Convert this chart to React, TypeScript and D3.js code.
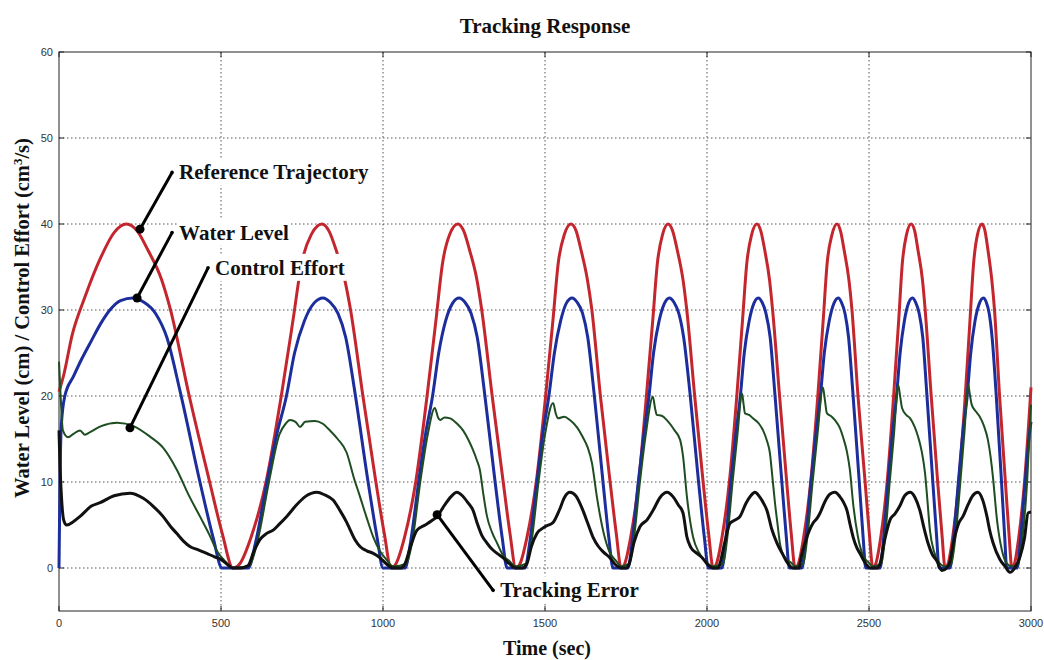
import React, { useRef, useEffect } from "react";
import * as d3 from "d3";

// axis ticks
const xTicks = [0, 500, 1000, 1500, 2000, 2500, 3000];
const yTicks = [0, 10, 20, 30, 40, 50, 60];

// [time (sec), value]
const referenceTrajectory = [
  [0, 20.5], [15, 22.5], [40, 27], [80, 31.5], [130, 36.2], [170, 39], [208, 40],
  [241, 39.2], [274, 37], [317, 33.5], [343, 30.2], [402, 20], [465, 10], [504, 4], [537, 0],
  [558, 0.5], [592, 3.5], [639, 10], [686, 20], [723, 29], [749, 35.5], [779, 38.8], [812, 40],
  [833, 39.2], [855, 37], [882, 33.5], [899, 30.2], [938, 20], [978, 10], [1004, 4], [1025, 0],
  [1040, 0.5], [1066, 3.5], [1101, 10], [1136, 20], [1164, 29], [1184, 35.5], [1206, 38.8], [1231, 40],
  [1249, 39.2], [1267, 37], [1290, 33.5], [1304, 30.2], [1337, 20], [1371, 10], [1392, 4], [1410, 0],
  [1423, 0.5], [1444, 3.5], [1473, 10], [1502, 20], [1525, 29], [1541, 35.5], [1560, 38.8], [1580, 40],
  [1596, 39.2], [1611, 37], [1631, 33.5], [1644, 30.2], [1671, 20], [1701, 10], [1720, 4], [1735, 0],
  [1746, 0.5], [1764, 3.5], [1789, 10], [1813, 20], [1833, 29], [1847, 35.5], [1863, 38.8], [1880, 40],
  [1894, 39.2], [1908, 37], [1926, 33.5], [1937, 30.2], [1962, 20], [1988, 10], [2005, 4], [2019, 0],
  [2029, 0.5], [2046, 3.5], [2069, 10], [2092, 20], [2110, 29], [2123, 35.5], [2138, 38.8], [2154, 40],
  [2166, 39.2], [2178, 37], [2193, 33.5], [2202, 30.2], [2224, 20], [2246, 10], [2260, 4], [2272, 0],
  [2282, 0.5], [2298, 3.5], [2320, 10], [2342, 20], [2359, 29], [2371, 35.5], [2386, 38.8], [2401, 40],
  [2412, 39.2], [2423, 37], [2438, 33.5], [2447, 30.2], [2466, 20], [2488, 10], [2501, 4], [2512, 0],
  [2521, 0.5], [2536, 3.5], [2556, 10], [2576, 20], [2592, 29], [2603, 35.5], [2616, 38.8], [2630, 40],
  [2641, 39.2], [2651, 37], [2665, 33.5], [2673, 30.2], [2692, 20], [2712, 10], [2725, 4], [2735, 0],
  [2744, 0.5], [2758, 3.5], [2777, 10], [2797, 20], [2812, 29], [2823, 35.5], [2835, 38.8], [2849, 40],
  [2858, 39.2], [2867, 37], [2879, 33.5], [2887, 30.2], [2903, 20], [2921, 10], [2932, 4], [2941, 0],
  [2949, 0.5], [2962, 3.5], [2980, 10], [3000, 21],
];

const waterLevel = [
  [0, 0], [3, 10], [7, 16.5], [18, 20], [45, 22.3], [70, 24.3], [101, 26.5], [130, 28.5],
  [157, 30], [190, 31.1], [229, 31.4],
  [262, 30.9], [298, 29.6], [333, 26.8], [374, 20.5], [435, 10], [476, 3.5], [503, 0], [584, 0],
  [607, 3], [642, 10], [672, 15.5], [702, 20], [727, 25], [757, 28.7], [787, 30.8], [815, 31.4],
  [837, 30.9], [861, 29.6], [885, 26.8], [913, 20.5], [954, 10], [982, 3.5], [1000, 0], [1068, 0],
  [1085, 3], [1110, 10], [1131, 15.5], [1153, 20], [1172, 25], [1193, 28.7], [1215, 30.8], [1235, 31.4],
  [1253, 30.9], [1272, 29.6], [1291, 26.8], [1313, 20.5], [1346, 10], [1368, 3.5], [1383, 0], [1438, 0],
  [1453, 3], [1475, 10], [1493, 15.5], [1512, 20], [1529, 25], [1548, 28.7], [1566, 30.8], [1584, 31.4],
  [1599, 30.9], [1616, 29.6], [1632, 26.8], [1651, 20.5], [1679, 10], [1697, 3.5], [1710, 0], [1756, 0],
  [1769, 3], [1788, 10], [1805, 15.5], [1821, 20], [1835, 25], [1852, 28.7], [1869, 30.8], [1884, 31.4],
  [1898, 30.9], [1913, 29.6], [1928, 26.8], [1947, 20.5], [1974, 10], [1992, 3.5], [2004, 0], [2046, 0],
  [2057, 3], [2074, 10], [2089, 15.5], [2103, 20], [2115, 25], [2130, 28.7], [2145, 30.8], [2158, 31.4],
  [2170, 30.9], [2182, 29.6], [2195, 26.8], [2209, 20.5], [2231, 10], [2245, 3.5], [2254, 0], [2293, 0],
  [2304, 3], [2321, 10], [2336, 15.5], [2350, 20], [2362, 25], [2377, 28.7], [2392, 30.8], [2405, 31.4],
  [2415, 30.9], [2426, 29.6], [2437, 26.8], [2450, 20.5], [2470, 10], [2482, 3.5], [2490, 0], [2534, 0],
  [2544, 3], [2559, 10], [2572, 15.5], [2585, 20], [2596, 25], [2609, 28.7], [2622, 30.8], [2634, 31.4],
  [2644, 30.9], [2655, 29.6], [2666, 26.8], [2678, 20.5], [2697, 10], [2709, 3.5], [2716, 0], [2750, 0],
  [2760, 3], [2776, 10], [2789, 15.5], [2803, 20], [2814, 25], [2827, 28.7], [2841, 30.8], [2853, 31.4],
  [2862, 30.9], [2871, 29.6], [2880, 26.8], [2892, 20.5], [2909, 10], [2919, 3.5], [2925, 0], [2957, 0],
  [2967, 3], [2982, 10], [2995, 15.5], [3000, 17],
];

const controlEffort = [
  [0, 24], [5, 20], [12, 16], [28, 15.2], [45, 15.6], [65, 16], [80, 15.5], [96, 15.8], [130, 16.5],
  [180, 16.9], [230, 16.5], [280, 15.3], [321, 14], [364, 11.4], [400, 8.5], [435, 6], [465, 3.8],
  [487, 2], [512, 0.8], [537, 0],
  [588, 0.3], [612, 3], [648, 10], [680, 15.5], [700, 16.8], [713, 17.2], [730, 17], [744, 16.4],
  [760, 17], [790, 17.1], [813, 16.8], [836, 16], [860, 15], [888, 13.4], [910, 10.5], [929, 8.3],
  [950, 5.8], [970, 3.6], [990, 2], [1010, 1], [1031, 0.2],
  [1072, 0.5], [1090, 3], [1115, 10], [1138, 15.5], [1160, 18.6], [1170, 17.5], [1176, 17.2],
  [1190, 17.5], [1207, 17.4], [1228, 16.8], [1247, 16], [1265, 14.8], [1278, 13.7], [1290, 12.5],
  [1299, 11.4], [1310, 8.5], [1321, 6], [1336, 4.2], [1352, 2.9], [1370, 1.5], [1390, 0.8], [1410, 0.2],
  [1442, 0.5], [1458, 3], [1480, 10], [1500, 15.5], [1525, 19.2], [1533, 18], [1540, 17.4],
  [1560, 17.6], [1577, 17.2], [1600, 16.3], [1617, 15.2], [1632, 14], [1645, 12.2], [1660, 8.3],
  [1679, 4.4], [1700, 1.8], [1720, 0.8], [1735, 0.2],
  [1760, 0.5], [1773, 3], [1793, 10], [1811, 15.5], [1833, 19.9], [1840, 18.5], [1845, 17.8],
  [1860, 17.7], [1876, 17.2], [1900, 16], [1917, 14.9], [1926, 13], [1938, 8.3], [1957, 3.6],
  [1975, 1.8], [1995, 0.8], [2019, 0.2],
  [2050, 0.5], [2061, 3], [2079, 10], [2094, 15.5], [2108, 20.3], [2113, 19], [2117, 18], [2130, 17.8],
  [2142, 17.4], [2160, 16.8], [2173, 16], [2185, 14.8], [2194, 13.4], [2202, 10.5], [2210, 7.5],
  [2218, 5], [2225, 2.9], [2240, 1.2], [2260, 0.6], [2272, 0.2],
  [2297, 0.5], [2308, 3], [2326, 10], [2341, 15.5], [2358, 21], [2364, 19.5], [2370, 18],
  [2385, 17.6], [2395, 17.2], [2410, 16.3], [2420, 15.2], [2432, 13.5], [2441, 11.4], [2451, 7.5],
  [2466, 3.6], [2481, 1.5], [2500, 0.6], [2512, 0.2],
  [2538, 0.5], [2548, 3], [2564, 10], [2577, 15.5], [2590, 21.3], [2596, 20], [2602, 18.6],
  [2615, 17.8], [2627, 17.4], [2640, 16.5], [2652, 15.2], [2663, 13.5], [2673, 11], [2680, 8],
  [2688, 4.4], [2700, 2], [2715, 0.7], [2735, 0.2],
  [2754, 0.5], [2765, 3], [2782, 10], [2795, 16], [2806, 21.3], [2812, 20], [2817, 19],
  [2830, 18.2], [2842, 17.6], [2855, 16.5], [2867, 14.9], [2875, 13], [2883, 10.4], [2895, 5.6],
  [2910, 2.1], [2926, 0.5], [2941, 0.2],
  [2961, 0.5], [2972, 3], [2988, 10], [3000, 19],
];

const trackingError = [
  [0, 16], [3, 12], [8, 8], [15, 5.5], [24, 5], [45, 5.4], [65, 6], [100, 7.2], [127, 7.6],
  [170, 8.4], [219, 8.7], [260, 8.1], [290, 7.2], [321, 6], [345, 4.8], [364, 4], [385, 3.1],
  [404, 2.5], [430, 2.1], [456, 1.7], [480, 1.3], [500, 1], [520, 0.4], [537, 0], [560, 0],
  [584, 0.3], [600, 1.8], [620, 3.3], [640, 4], [661, 4.4], [680, 5.1], [703, 6], [730, 7.2],
  [760, 8.3], [796, 8.8], [820, 8.5], [846, 7.9], [867, 6.7], [888, 5.3], [898, 4.5], [915, 3.2],
  [929, 2.5], [950, 2], [970, 1.7], [990, 1.2], [1010, 0.5], [1031, 0], [1055, 0],
  [1068, 0.5], [1085, 2.5], [1105, 4.4], [1130, 5], [1150, 5.5], [1167, 6], [1190, 7.3],
  [1210, 8.3], [1228, 8.8], [1245, 8.4], [1262, 7.6], [1278, 6.7], [1290, 5.3], [1305, 3.8],
  [1321, 2.9], [1336, 2.2], [1352, 1.7], [1370, 1.2], [1390, 0.5], [1410, 0], [1430, 0],
  [1444, 0.5], [1458, 2.5], [1475, 4], [1500, 4.8], [1525, 5.3], [1545, 6.8], [1560, 8.2],
  [1577, 8.8], [1595, 8.4], [1617, 6.7], [1632, 5.2], [1648, 3.6], [1665, 2.5], [1679, 1.9],
  [1700, 1.2], [1720, 0.3], [1735, 0], [1750, 0],
  [1760, 0.5], [1775, 3], [1793, 4.8], [1815, 5.6], [1835, 6.8], [1855, 8.2], [1877, 8.8],
  [1895, 8.3], [1912, 7.3], [1926, 6.4], [1938, 3.6], [1950, 2.4], [1969, 1.7], [1985, 1.2],
  [2000, 0.5], [2019, 0], [2035, 0],
  [2040, 0.5], [2055, 3], [2071, 5.2], [2088, 5.6], [2102, 6], [2120, 7.5], [2135, 8.4],
  [2148, 8.8], [2162, 8.3], [2175, 7.5], [2185, 6.7], [2200, 4.5], [2216, 2.9], [2235, 1.5],
  [2250, 0.5], [2265, 0], [2285, 0],
  [2287, 0.5], [2305, 3.2], [2327, 5.2], [2340, 5.8], [2349, 6.4], [2365, 7.8], [2380, 8.6],
  [2395, 8.8], [2410, 8.3], [2422, 7.6], [2432, 6.7], [2442, 5], [2451, 3.6], [2462, 2.4],
  [2472, 1.7], [2490, 0.5], [2505, 0], [2525, 0],
  [2534, 0.5], [2548, 3.2], [2565, 5.6], [2580, 6.3], [2595, 7.2], [2610, 8.4], [2627, 8.8],
  [2642, 8.2], [2657, 6.7], [2670, 4.6], [2682, 2.9], [2695, 1.6], [2710, 0.8], [2725, -0.3], [2740, 0],
  [2748, 0.5], [2762, 3.2], [2778, 5.3], [2790, 6], [2805, 7.3], [2820, 8.4], [2836, 8.8],
  [2850, 8], [2864, 6], [2873, 4.3], [2883, 2.9], [2904, 1], [2920, 0.2], [2935, -0.5],
  [2950, 0], [2966, 1.3], [2980, 3.5], [2991, 6.4], [3000, 6.5],
];

const series = [
  { name: "Reference Trajectory", values: referenceTrajectory, color: "#c4262e", width: 3 },
  { name: "Water Level", values: waterLevel, color: "#1c2d9c", width: 3 },
  { name: "Control Effort", values: controlEffort, color: "#1d4d20", width: 2 },
  { name: "Tracking Error", values: trackingError, color: "#111111", width: 3 },
];

// callout: dot on the curve, end of the leader line (data units)
const callouts = [
  { label: "Reference Trajectory", dot: [250, 39.4], end: [349, 46] },
  { label: "Water Level", dot: [241, 31.4], end: [349, 39] },
  { label: "Control Effort", dot: [219, 16.3], end: [460, 34.9] },
  { label: "Tracking Error", dot: [1167, 6.2], end: [1340, -2.6] },
];

const W = 1044;
const H = 660;
const serif = "'Liberation Serif', 'Times New Roman', serif";
const sans = "'Liberation Sans', Arial, sans-serif";

export default function App() {
  const ref = useRef(null);

  useEffect(() => {
    const svg = d3.select(ref.current);
    svg.selectAll("*").remove();

    const x = d3.scaleLinear().domain([0, 3000]).range([59, 1031]);
    const y = d3.scaleLinear().domain([-5, 60]).range([611, 52]);

    svg.append("rect").attr("width", W).attr("height", H).attr("fill", "#fff");

    // dotted grid
    const grid = svg.append("g").attr("stroke", "#555").attr("stroke-width", 1).attr("stroke-dasharray", "1.5,2.5");
    grid
      .selectAll("line.v")
      .data(xTicks.slice(1, -1))
      .join("line")
      .attr("class", "v")
      .attr("x1", (d) => x(d))
      .attr("x2", (d) => x(d))
      .attr("y1", y(60))
      .attr("y2", y(-5));
    grid
      .selectAll("line.h")
      .data(yTicks.slice(0, -1))
      .join("line")
      .attr("class", "h")
      .attr("x1", x(0))
      .attr("x2", x(3000))
      .attr("y1", (d) => y(d))
      .attr("y2", (d) => y(d));

    // frame + inward ticks
    svg
      .append("rect")
      .attr("x", x(0))
      .attr("y", y(60))
      .attr("width", x(3000) - x(0))
      .attr("height", y(-5) - y(60))
      .attr("fill", "none")
      .attr("stroke", "#222")
      .attr("stroke-width", 1);

    const ticks = svg.append("g").attr("stroke", "#222").attr("stroke-width", 1);
    xTicks.forEach((t) => {
      ticks.append("line").attr("x1", x(t)).attr("x2", x(t)).attr("y1", y(-5)).attr("y2", y(-5) - 5);
      ticks.append("line").attr("x1", x(t)).attr("x2", x(t)).attr("y1", y(60)).attr("y2", y(60) + 5);
    });
    yTicks.forEach((v) => {
      ticks.append("line").attr("x1", x(0)).attr("x2", x(0) + 5).attr("y1", y(v)).attr("y2", y(v));
      ticks.append("line").attr("x1", x(3000)).attr("x2", x(3000) - 5).attr("y1", y(v)).attr("y2", y(v));
    });

    svg
      .append("g")
      .selectAll("text")
      .data(xTicks)
      .join("text")
      .attr("x", (d) => x(d))
      .attr("y", y(-5) + 16)
      .attr("text-anchor", "middle")
      .style("font-family", sans)
      .style("font-size", "11px")
      .style("fill", "#333")
      .text((d) => d);

    svg
      .append("g")
      .selectAll("text")
      .data(yTicks)
      .join("text")
      .attr("x", x(0) - 6)
      .attr("y", (d) => y(d) + 4)
      .attr("text-anchor", "end")
      .style("font-family", sans)
      .style("font-size", "11px")
      .style("fill", "#333")
      .text((d) => d);

    // curves
    const line = d3
      .line()
      .x((d) => x(d[0]))
      .y((d) => y(d[1]))
      .curve(d3.curveMonotoneX);

    svg
      .append("g")
      .selectAll("path")
      .data(series)
      .join("path")
      .attr("d", (d) => line(d.values))
      .attr("fill", "none")
      .attr("stroke", (d) => d.color)
      .attr("stroke-width", (d) => d.width)
      .attr("stroke-linejoin", "round");

    // callouts
    const ann = svg.append("g");
    callouts.forEach((c) => {
      ann
        .append("line")
        .attr("x1", x(c.dot[0]))
        .attr("y1", y(c.dot[1]))
        .attr("x2", x(c.end[0]))
        .attr("y2", y(c.end[1]))
        .attr("stroke", "#000")
        .attr("stroke-width", 3);
      ann.append("circle").attr("cx", x(c.dot[0])).attr("cy", y(c.dot[1])).attr("r", 4.5).attr("fill", "#000");
      ann.append("circle").attr("cx", x(c.end[0])).attr("cy", y(c.end[1])).attr("r", 1.8).attr("fill", "#000");

      const lg = ann.append("g");
      const txt = lg
        .append("text")
        .attr("x", x(c.end[0]) + 7)
        .attr("y", y(c.end[1]) + 7)
        .style("font-family", serif)
        .style("font-weight", "bold")
        .style("font-size", "21px")
        .style("fill", "#111")
        .text(c.label);
      const bb = txt.node().getBBox();
      lg.insert("rect", "text")
        .attr("x", bb.x - 2)
        .attr("y", bb.y - 2)
        .attr("width", bb.width + 4)
        .attr("height", bb.height + 3)
        .attr("fill", "#fff");
    });

    // titles
    svg
      .append("text")
      .attr("x", 545)
      .attr("y", 33)
      .attr("text-anchor", "middle")
      .style("font-family", serif)
      .style("font-weight", "bold")
      .style("font-size", "21px")
      .style("fill", "#111")
      .text("Tracking Response");

    svg
      .append("text")
      .attr("x", 547)
      .attr("y", 655)
      .attr("text-anchor", "middle")
      .style("font-family", serif)
      .style("font-weight", "bold")
      .style("font-size", "20px")
      .style("fill", "#111")
      .text("Time (sec)");

    const yl = svg
      .append("text")
      .attr("transform", "translate(29,318) rotate(-90)")
      .attr("text-anchor", "middle")
      .style("font-family", serif)
      .style("font-weight", "bold")
      .style("font-size", "20.5px")
      .style("fill", "#111");
    yl.append("tspan").text("Water Level (cm) / Control Effort (cm");
    yl.append("tspan").attr("dy", -7).style("font-size", "13px").text("3");
    yl.append("tspan").attr("dy", 7).text("/s)");
  }, []);

  return (
    <svg
      ref={ref}
      width={W}
      height={H}
      style={{ position: "absolute", left: 0, top: 0, background: "#fff" }}
    ></svg>
  );
}
